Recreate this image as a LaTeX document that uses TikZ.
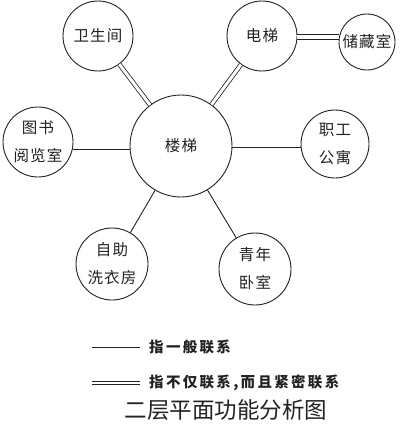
\documentclass[tikz,border=0pt]{standalone}
\usepackage{fontspec}
\newfontfamily\cjk[LetterSpace=8]{Noto Sans CJK SC}
\newfontfamily\legendfont[LetterSpace=16]{Noto Sans CJK SC}
\newfontfamily\titlefont{Noto Sans CJK SC}
\definecolor{ink}{HTML}{222222}
\begin{document}
\begin{tikzpicture}[x=1pt,y=-1pt,
  room/.style={circle,draw=ink,line width=0.9pt,minimum size=70pt,inner sep=0pt,align=center,
    text=ink,font=\cjk\fontsize{15.5}{28}\selectfont},
  plain/.style={draw=ink,line width=0.9pt},
  tight/.style={draw=ink,double=white,double distance=3pt,line width=0.8pt},
  htight/.style={draw=ink,double=white,double distance=4pt,line width=1pt},
  legtight/.style={draw=ink,double=white,double distance=2.2pt,line width=1.2pt},
  legtext/.style={anchor=west,text=ink,inner sep=0pt,font=\legendfont\bfseries\fontsize{14.5}{16}\selectfont}]
\useasboundingbox (0,0) rectangle (406,428);
\node[room,minimum size=102pt] (ls) at (181,146) {楼梯};
\node[room] (wc) at (98,36) {卫生间};
\node[room] (dt) at (262,36) {电梯};
\node[room,minimum size=56pt] (cc) at (367,42) {储藏室};
\node[room] (ts) at (38,142) {图书\\阅览室};
\node[room,minimum size=68pt] (zg) at (335,144) {职工\\公寓};
\node[room,minimum size=72pt] (xy) at (112,264) {自助\\洗衣房};
\node[room,minimum size=72pt] (qn) at (255,269) {青年\\卧室};
\draw[tight] (wc) -- (ls);
\draw[tight] (dt) -- (ls);
\draw[htight] (dt.east |- 0,37) -- (cc.west |- 0,37);
\draw[plain] (ts.east |- 0,149) -- (ls.west |- 0,149);
\draw[plain] (ls.east |- 0,147) -- (zg.west |- 0,147);
\draw[plain] (ls) -- (xy);
\draw[plain] (ls) -- (qn);
\coordinate (la) at (92,347);
\coordinate (lb) at (140,347);
\coordinate (lc) at (92,383);
\coordinate (ld) at (140,383);
\draw[plain] (la) -- (lb);
\draw[legtight] (lc) -- (ld);
\node[legtext] (t1) at (149,347) {指一般联系};
\node[legtext] (t2) at (149,383) {指不仅联系,而且紧密联系};
\node[text=ink,inner sep=0pt,font=\titlefont\fontsize{22.5}{24}\selectfont] (title) at (226,410) {二层平面功能分析图};
\end{tikzpicture}
\end{document}
